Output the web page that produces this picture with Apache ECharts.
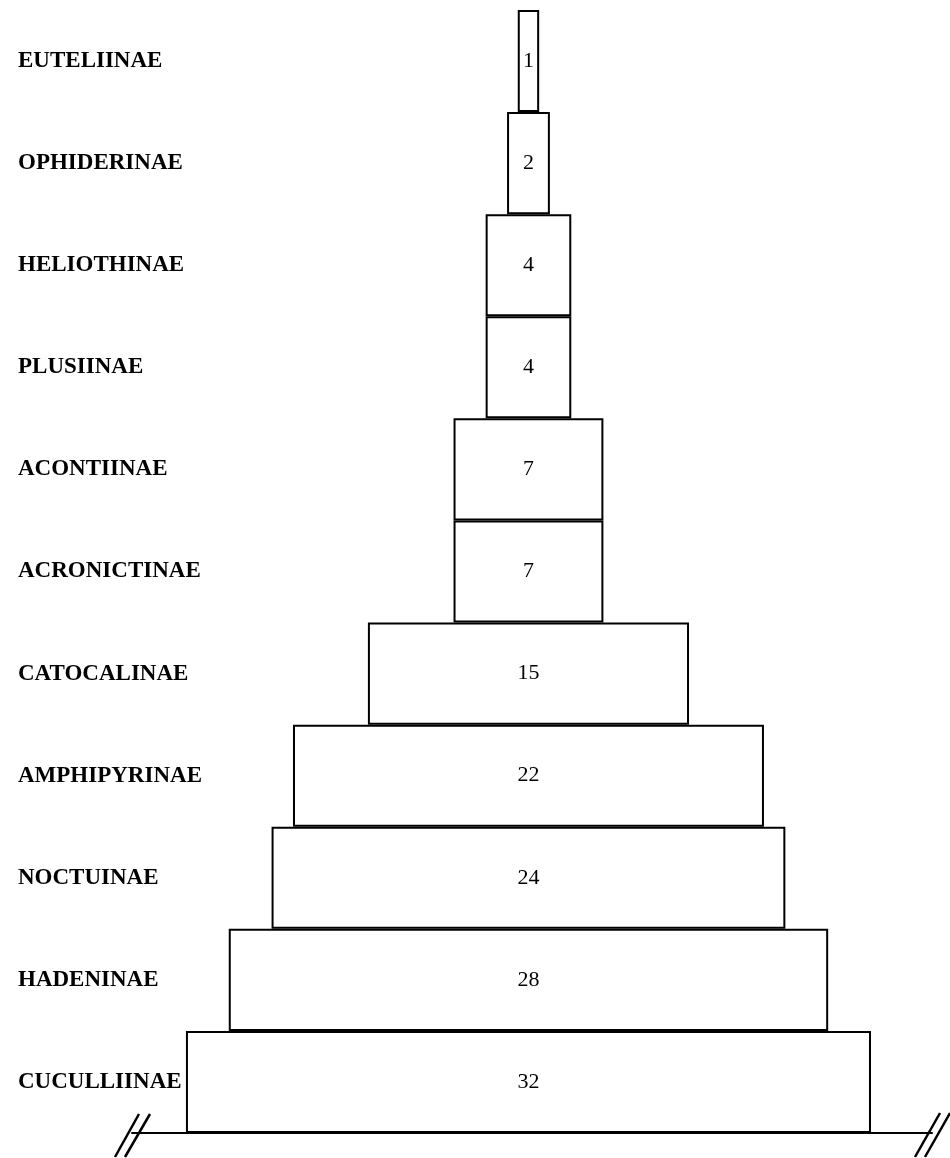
<!DOCTYPE html>
<html>
<head>
<meta charset="utf-8">
<script src="https://cdn.jsdelivr.net/npm/echarts@6/dist/echarts.min.js"></script>
<style>html,body{margin:0;padding:0;background:#fff}#c{width:950px;height:1158px}</style>
</head>
<body>
<div id="c"></div>
<script>
var categories = ['EUTELIINAE','OPHIDERINAE','HELIOTHINAE','PLUSIINAE','ACONTIINAE','ACRONICTINAE','CATOCALINAE','AMPHIPYRINAE','NOCTUINAE','HADENINAE','CUCULLIINAE'];
var counts = [1, 2, 4, 4, 7, 7, 15, 22, 24, 28, 32];
var axisMax = 37.37;
var center = 18.52;
var offsets = counts.map(function(v){ return center - v / 2; });

var chart = echarts.init(document.getElementById('c'));
chart.setOption({
  backgroundColor: '#fff',
  animation: false,
  grid: { left: 132, right: 18, top: 10, bottom: 25 },
  xAxis: {
    type: 'value', min: 0, max: axisMax,
    axisLine: { show: true, lineStyle: { color: '#000', width: 2 } },
    axisTick: { show: false }, axisLabel: { show: false }, splitLine: { show: false }
  },
  yAxis: {
    type: 'category', data: categories, inverse: true,
    axisLine: { show: false }, axisTick: { show: false }, splitLine: { show: false },
    axisLabel: {
      align: 'left', margin: 114,
      fontFamily: 'Liberation Serif', fontWeight: 'bold', fontSize: 23, color: '#000',
      padding: [4, 0, 0, 0]
    }
  },
  series: [
    { type: 'bar', stack: 's', data: offsets, itemStyle: { color: 'transparent' }, silent: true, barCategoryGap: '0%' },
    { type: 'bar', stack: 's', data: counts, barCategoryGap: '0%',
      itemStyle: { color: '#fff', borderColor: '#000', borderWidth: 2 },
      label: { show: true, position: 'inside', color: '#000', fontFamily: 'Liberation Serif', fontSize: 22, padding: [4, 0, 0, 0] }
    }
  ],
  graphic: [
    { type: 'line', shape: { x1: 115, y1: 1157, x2: 139, y2: 1114 }, style: { stroke: '#000', lineWidth: 2.5 } },
    { type: 'line', shape: { x1: 125, y1: 1157, x2: 150, y2: 1114 }, style: { stroke: '#000', lineWidth: 2.5 } },
    { type: 'line', shape: { x1: 915, y1: 1157, x2: 940, y2: 1113 }, style: { stroke: '#000', lineWidth: 2.5 } },
    { type: 'line', shape: { x1: 925, y1: 1157, x2: 950, y2: 1113 }, style: { stroke: '#000', lineWidth: 2.5 } }
  ]
});
</script>
</body>
</html>
